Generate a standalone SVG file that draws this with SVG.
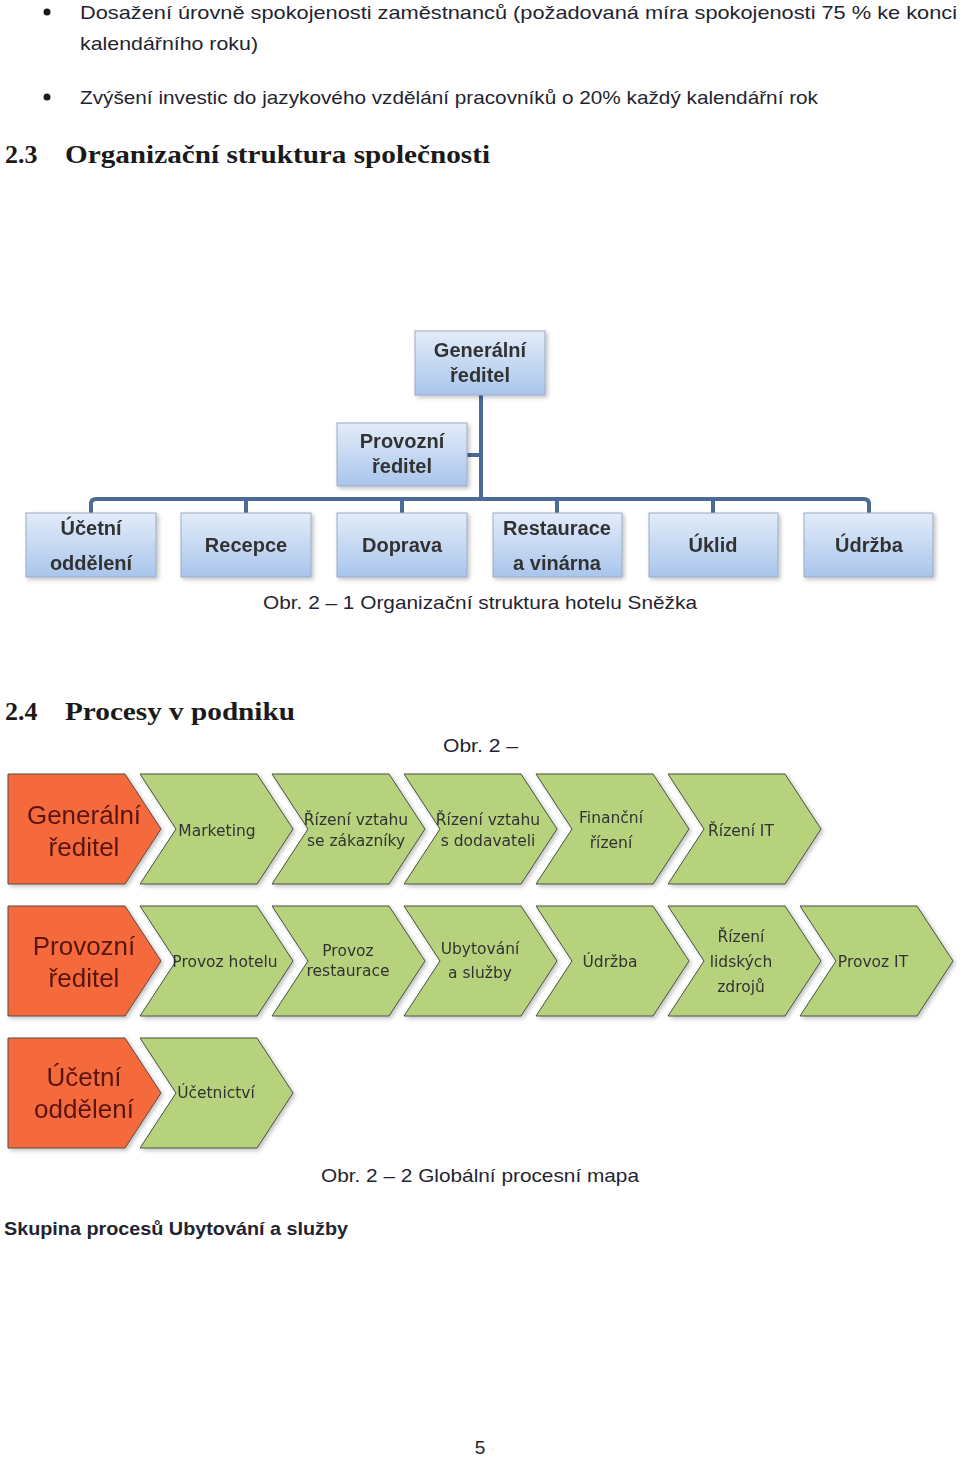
<svg xmlns="http://www.w3.org/2000/svg" xmlns:xlink="http://www.w3.org/1999/xlink" width="960" height="1459" viewBox="0 0 960 1459">
<style>
.body{font-family:"Liberation Sans",Arial,sans-serif;font-size:19px;fill:#1f2430}
.h{font-family:"Liberation Serif","Times New Roman",serif;font-weight:bold;font-size:26px;fill:#1a1a1a}
.ob{fill:url(#boxg);stroke:#9aabc4;stroke-width:1}
.ot{font-family:"Liberation Sans",Arial,sans-serif;font-weight:bold;font-size:20px;fill:#333;text-anchor:middle}
.conn{fill:none;stroke:#4b6a97;stroke-width:4}
.or{fill:#f46a3c;stroke:#5a4a44;stroke-width:1}
.gr{fill:#b7d27d;stroke:#4a5040;stroke-width:1}
.otx{font-family:"Liberation Sans",Arial,sans-serif;font-size:26px;fill:#5a1410;text-anchor:middle}
.gtx{font-family:"DejaVu Sans",Verdana,sans-serif;font-size:15.5px;fill:#333;text-anchor:middle}
</style>
<defs>
<linearGradient id="boxg" x1="0" y1="0" x2="0" y2="1">
<stop offset="0" stop-color="#e3ecf9"/>
<stop offset="1" stop-color="#a9c5ec"/>
</linearGradient>
<filter id="sh" x="-10%" y="-10%" width="130%" height="130%">
<feGaussianBlur in="SourceAlpha" stdDeviation="2"/>
<feOffset dx="2" dy="2" result="b"/>
<feComponentTransfer><feFuncA type="linear" slope="0.25"/></feComponentTransfer>
<feMerge><feMergeNode/><feMergeNode in="SourceGraphic"/></feMerge>
</filter>
<path id="chevG" d="M0,0 H117 L153,55 L117,110 H0 L36,55 Z"/>
<path id="chevO" d="M0,0 H117 L153,55 L117,110 H0 Z"/>
</defs>
<rect width="960" height="1459" fill="#fff"/>

<!-- body text -->
<g id="text">
<circle cx="47" cy="12" r="3.5" fill="#1a1a1a"/>
<text class="body" x="80" y="19" textLength="877" lengthAdjust="spacingAndGlyphs">Dosažení úrovně spokojenosti zaměstnanců (požadovaná míra spokojenosti 75 % ke konci</text>
<text class="body" x="80" y="50" textLength="178" lengthAdjust="spacingAndGlyphs">kalendářního roku)</text>
<circle cx="47" cy="97" r="3.5" fill="#1a1a1a"/>
<text class="body" x="80" y="104" textLength="738" lengthAdjust="spacingAndGlyphs">Zvýšení investic do jazykového vzdělání pracovníků o 20% každý kalendářní rok</text>
<text class="h" x="5" y="163">2.3</text>
<text class="h" x="65" y="163" textLength="425" lengthAdjust="spacingAndGlyphs">Organizační struktura společnosti</text>
<text class="body" x="480" y="609" text-anchor="middle" textLength="434" lengthAdjust="spacingAndGlyphs">Obr. 2 – 1 Organizační struktura hotelu Sněžka</text>
<text class="h" x="5" y="720">2.4</text>
<text class="h" x="65" y="720" textLength="230" lengthAdjust="spacingAndGlyphs">Procesy v podniku</text>
<text class="body" x="443" y="752" textLength="75" lengthAdjust="spacingAndGlyphs">Obr. 2 –</text>
<text class="body" x="321" y="1182" textLength="318" lengthAdjust="spacingAndGlyphs">Obr. 2 – 2 Globální procesní mapa</text>
<text class="body" x="4" y="1235" font-weight="bold" textLength="344" lengthAdjust="spacingAndGlyphs">Skupina procesů Ubytování a služby</text>
<text class="body" x="480" y="1454" text-anchor="middle">5</text>
</g>

<!-- org chart connectors -->
<g id="connectors">
<path class="conn" d="M481,395 V499"/>
<path class="conn" d="M467,455 H481"/>
<path class="conn" d="M91,513 V504 Q91,499 96,499 H864 Q869,499 869,504 V513"/>
<path class="conn" d="M246,499 V513 M402,499 V513 M557,499 V513 M713,499 V513"/>
</g>

<g id="org-generalni" filter="url(#sh)">
<rect class="ob" x="415" y="331" width="130" height="64"/>
<text class="ot" x="480" y="357">Generální</text>
<text class="ot" x="480" y="382">ředitel</text>
</g>
<g id="org-provozni" filter="url(#sh)">
<rect class="ob" x="337" y="423" width="130" height="63"/>
<text class="ot" x="402" y="448">Provozní</text>
<text class="ot" x="402" y="473">ředitel</text>
</g>
<g id="org-ucetni" filter="url(#sh)">
<rect class="ob" x="26" y="513" width="130" height="64"/>
<text class="ot" x="91" y="535">Účetní</text>
<text class="ot" x="91" y="570">oddělení</text>
</g>
<g id="org-recepce" filter="url(#sh)">
<rect class="ob" x="181" y="513" width="130" height="64"/>
<text class="ot" x="246" y="552">Recepce</text>
</g>
<g id="org-doprava" filter="url(#sh)">
<rect class="ob" x="337" y="513" width="130" height="64"/>
<text class="ot" x="402" y="552">Doprava</text>
</g>
<g id="org-restaurace" filter="url(#sh)">
<rect class="ob" x="493" y="513" width="129" height="64"/>
<text class="ot" x="557" y="535">Restaurace</text>
<text class="ot" x="557" y="570">a vinárna</text>
</g>
<g id="org-uklid" filter="url(#sh)">
<rect class="ob" x="649" y="513" width="129" height="64"/>
<text class="ot" x="713" y="552">Úklid</text>
</g>
<g id="org-udrzba" filter="url(#sh)">
<rect class="ob" x="804" y="513" width="129" height="64"/>
<text class="ot" x="869" y="552">Údržba</text>
</g>

<!-- process map row 1 -->
<g id="p-generalni" filter="url(#sh)">
<use href="#chevO" x="8" y="774" class="or"/>
<text class="otx" x="84" y="824">Generální</text>
<text class="otx" x="84" y="856">ředitel</text>
</g>
<g id="p-marketing" filter="url(#sh)">
<use href="#chevG" x="140" y="774" class="gr"/>
<text class="gtx" x="217" y="836">Marketing</text>
</g>
<g id="p-zakaznici" filter="url(#sh)">
<use href="#chevG" x="272" y="774" class="gr"/>
<text class="gtx" x="356" y="825">Řízení vztahu</text>
<text class="gtx" x="356" y="846">se zákazníky</text>
</g>
<g id="p-dodavatele" filter="url(#sh)">
<use href="#chevG" x="404" y="774" class="gr"/>
<text class="gtx" x="488" y="825">Řízení vztahu</text>
<text class="gtx" x="488" y="846">s dodavateli</text>
</g>
<g id="p-financni" filter="url(#sh)">
<use href="#chevG" x="536" y="774" class="gr"/>
<text class="gtx" x="611" y="823">Finanční</text>
<text class="gtx" x="611" y="848">řízení</text>
</g>
<g id="p-it" filter="url(#sh)">
<use href="#chevG" x="668" y="774" class="gr"/>
<text class="gtx" x="741" y="836">Řízení IT</text>
</g>

<!-- row 2 -->
<g id="p-provozni" filter="url(#sh)">
<use href="#chevO" x="8" y="906" class="or"/>
<text class="otx" x="84" y="955">Provozní</text>
<text class="otx" x="84" y="987">ředitel</text>
</g>
<g id="p-hotel" filter="url(#sh)">
<use href="#chevG" x="140" y="906" class="gr"/>
<text class="gtx" x="225" y="967">Provoz hotelu</text>
</g>
<g id="p-restaurace" filter="url(#sh)">
<use href="#chevG" x="272" y="906" class="gr"/>
<text class="gtx" x="348" y="956">Provoz</text>
<text class="gtx" x="348" y="976">restaurace</text>
</g>
<g id="p-ubytovani" filter="url(#sh)">
<use href="#chevG" x="404" y="906" class="gr"/>
<text class="gtx" x="480" y="954">Ubytování</text>
<text class="gtx" x="480" y="978">a služby</text>
</g>
<g id="p-udrzba" filter="url(#sh)">
<use href="#chevG" x="536" y="906" class="gr"/>
<text class="gtx" x="610" y="967">Údržba</text>
</g>
<g id="p-lidske" filter="url(#sh)">
<use href="#chevG" x="668" y="906" class="gr"/>
<text class="gtx" x="741" y="942">Řízení</text>
<text class="gtx" x="741" y="967">lidských</text>
<text class="gtx" x="741" y="992">zdrojů</text>
</g>
<g id="p-provozit" filter="url(#sh)">
<use href="#chevG" x="800" y="906" class="gr"/>
<text class="gtx" x="873" y="967">Provoz IT</text>
</g>

<!-- row 3 -->
<g id="p-ucetni" filter="url(#sh)">
<use href="#chevO" x="8" y="1038" class="or"/>
<text class="otx" x="84" y="1086">Účetní</text>
<text class="otx" x="84" y="1118">oddělení</text>
</g>
<g id="p-ucetnictvi" filter="url(#sh)">
<use href="#chevG" x="140" y="1038" class="gr"/>
<text class="gtx" x="216" y="1098">Účetnictví</text>
</g>
</svg>
